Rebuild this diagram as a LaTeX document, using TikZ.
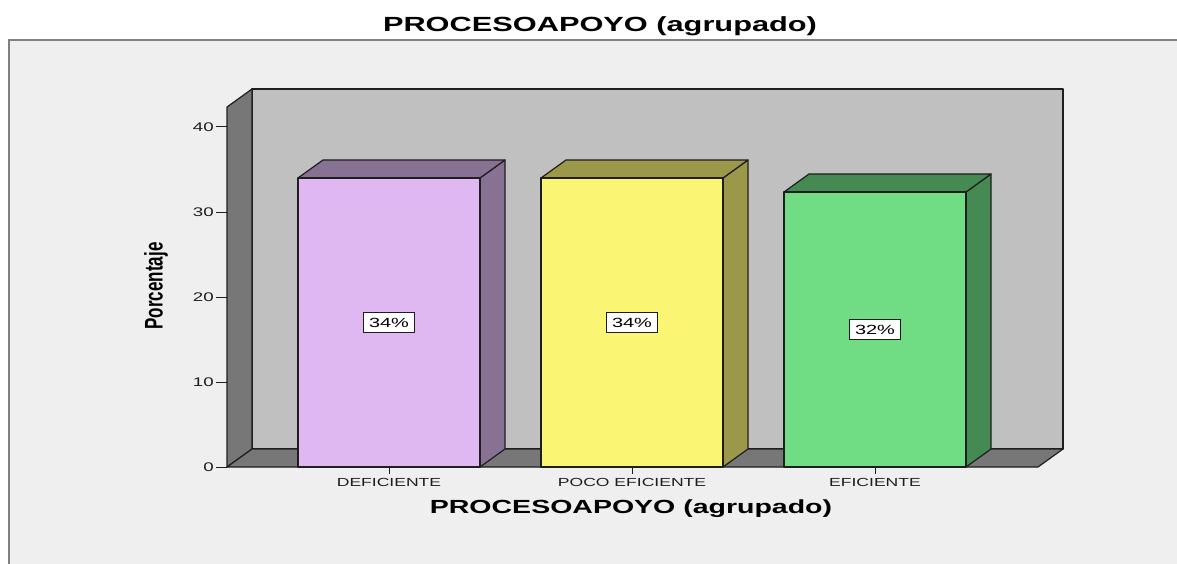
\documentclass[tikz,border=0pt]{standalone}
\usepackage{fontspec}
\setmainfont{Liberation Sans}[FakeStretch=1.5]
\newfontfamily\plainsans{Liberation Sans}
\usepackage{tikz}
\usetikzlibrary{calc}
\definecolor{panelbg}{HTML}{EFEFEF}
\definecolor{wallgray}{HTML}{C0C0C0}
\definecolor{sidegray}{HTML}{777777}
\definecolor{framegray}{HTML}{808080}
\definecolor{edgeblack}{HTML}{1E1E1E}
\definecolor{lilacfront}{HTML}{DFB8F2}
\definecolor{lilacside}{HTML}{887294}
\definecolor{yellowfront}{HTML}{FAF573}
\definecolor{yellowside}{HTML}{9B984A}
\definecolor{greenfront}{HTML}{70DD85}
\definecolor{greenside}{HTML}{458A52}
\tikzset{
  boxline/.style={draw=edgeblack, line width=1.2pt, line join=round},
  ticklabel/.style={font=\fontsize{12.5}{13}\selectfont, text=edgeblack, inner sep=1pt},
  catlabel/.style={font=\fontsize{11.7}{12}\selectfont, text=edgeblack, inner sep=0pt},
  valbox/.style={draw=edgeblack, fill=white, line width=0.8pt, minimum width=51pt, minimum height=20pt, inner sep=0pt, font=\fontsize{13.3}{14}\selectfont}
}
\newcommand{\barbox}[4]{ \filldraw[boxline, fill=#4] (#1+182,467) -- (#1+207,449) -- (#1+207,#2-18) -- (#1+182,#2) -- cycle; \filldraw[boxline, fill=#4] (#1,#2) -- (#1+25,#2-18) -- (#1+207,#2-18) -- (#1+182,#2) -- cycle; \filldraw[boxline, fill=#3] (#1,467) rectangle (#1+182,#2);}
\begin{document}
\begin{tikzpicture}[x=1pt, y=-1pt]
    \useasboundingbox (0,0) rectangle (1177,564);
    \fill[white] (0,0) rectangle (1177,564);
    \fill[panelbg] (9,40) rectangle (1177,564);
    \draw[framegray, line width=1.2pt] (9,564) -- (9,40) -- (1177,40);

    \node[font=\bfseries\fontsize{20.5}{22}\selectfont] (title) at (600,26) {PROCESOAPOYO (agrupado)};

    % walls and floor
    \filldraw[boxline, fill=wallgray] (252,89) rectangle (1063,449);
    \filldraw[boxline, fill=sidegray] (227,467) -- (227,107) -- (252,89) -- (252,449) -- cycle;
    \filldraw[boxline, fill=sidegray] (227,467) -- (1038,467) -- (1063,449) -- (252,449) -- cycle;

    \foreach \v in {0,10,...,40} {
        \draw[boxline, line width=1pt] (216,{467-8.5*\v}) -- (227,{467-8.5*\v});
        \node[ticklabel, anchor=east] (ytick\v) at (215,{467-8.5*\v}) {\v};
    }

    \barbox{298}{178}{lilacfront}{lilacside}
    \barbox{541}{178}{yellowfront}{yellowside}
    \barbox{784}{192}{greenfront}{greenside}

    \node[valbox] (valDef) at (389,{(467+178)/2}) {34\%};
    \node[valbox] (valPoco) at (632,{(467+178)/2}) {34\%};
    \node[valbox] (valEfi) at (875,{(467+192)/2}) {32\%};

    \foreach \cx in {389,632,875} {\draw[boxline, line width=1pt] (\cx,467) -- (\cx,474);}
    \node[catlabel] (catDef) at (389,482) {DEFICIENTE};
    \node[catlabel] (catPoco) at (632,482) {POCO EFICIENTE};
    \node[catlabel] (catEfi) at (875,482) {EFICIENTE};

    \node[font=\bfseries\fontsize{19}{20}\selectfont] (xlab) at (631,509) {PROCESOAPOYO (agrupado)};
    \node[rotate=90, font=\plainsans\bfseries\fontsize{17}{18}\selectfont] (ylab) at (156,286) {\scalebox{1}[1.5]{Porcentaje}};
\end{tikzpicture}
\end{document}
